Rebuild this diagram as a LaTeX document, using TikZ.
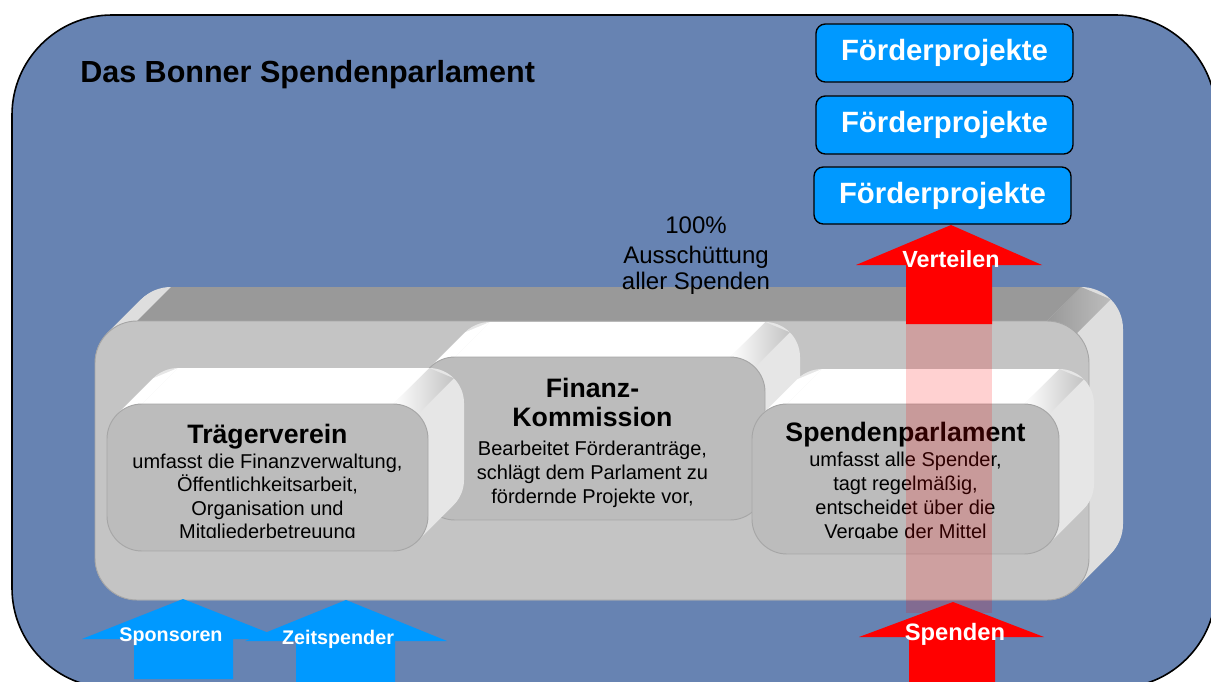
\documentclass[tikz,border=0pt]{standalone}
\usepackage{fontspec}
\setmainfont{Liberation Sans}
\definecolor{frame}{RGB}{103,131,178}
\definecolor{fpblue}{RGB}{0,153,255}
\definecolor{platside}{RGB}{222,222,222}
\definecolor{plattop}{RGB}{153,153,153}
\definecolor{platfront}{RGB}{196,196,196}
\definecolor{boxside}{RGB}{230,230,230}
\definecolor{boxfront}{RGB}{188,188,188}

% extruded rounded slab: #1..#4 front face corners, #5 radius, #6 depth,
% #7 side colour, #8 top colour, #9 front colour (bevel colour in \bevelcol)
\newcommand{\extslab}[9]{%
  \foreach \t in {0,...,#6}{%
    \fill[#7, rounded corners=#5*0.75pt] ({#1+\t},{#2-\t}) rectangle ({#3+\t},{#4-\t});}
  \fill[\bevelcol] ({#1+0.293*#5},{#2+0.293*#5}) -- ({#1+0.293*#5+#6},{#2+0.293*#5-#6})
     -- ({#1+#5+#6},{#2-#6}) -- ({#1+#5},{#2}) -- cycle;
  \shade[left color=#8, right color=#7!85!black] ({#3-#5},{#2}) -- ({#3-#5+#6},{#2-#6})
     -- ({#3-0.293*#5+#6},{#2+0.293*#5-#6}) -- ({#3-0.293*#5},{#2+0.293*#5}) -- cycle;
  \fill[#8] ({#1+#5},{#2}) -- ({#1+#5+#6},{#2-#6}) -- ({#3-#5+#6},{#2-#6}) -- ({#3-#5},{#2}) -- cycle;
  \fill[#9, rounded corners=#5*0.75pt] (#1,#2) rectangle (#3,#4);
  \draw[black!35, line width=0.7pt, rounded corners=#5*0.75pt] (#1,#2) rectangle (#3,#4);
}
% upward block arrow: apex, head left/right x, head base y, shaft left/right x, bottom y
\newcommand{\blockup}[9]{%
  \fill[#9] (#1,#2) -- (#4,#5) -- (#7,#5) -- (#7,#8) -- (#6,#8) -- (#6,#5) -- (#3,#5) -- cycle;}

\tikzset{
  fpbox/.style={draw=black, line width=1pt, fill=fpblue, rounded corners=7pt,
    text=white, font=\fontsize{22}{26}\selectfont\bfseries,
    minimum width=192.75pt, inner sep=0pt},
  boxtext/.style={align=center, inner sep=0pt, anchor=north},
  arrowlabel/.style={text=white, inner sep=0pt}
}

\begin{document}
\begin{tikzpicture}[x=0.75pt,y=-0.75pt]
\useasboundingbox (0,0) rectangle (1211,682);
\clip (0,0) rectangle (1211,682);
\fill[white] (0,0) rectangle (1211,682);

% outer panel
\draw[line width=1.2pt, fill=frame, rounded corners=75pt] (12,15) rectangle (1216,688);

\node[font=\fontsize{22.9}{27}\selectfont\bfseries, anchor=base west, inner sep=0pt]
  (title) at (80,82) {Das Bonner Spendenparlament};

% platform
\def\bevelcol{platside}
\extslab{95}{321}{1089}{600}{42}{34}{platside}{plattop}{platfront}

% member bodies
\def\bevelcol{white}
\extslab{420}{357}{765}{520}{35}{35}{boxside}{white}{boxfront}
\extslab{107}{404}{428}{551}{35}{36}{boxside}{white}{boxfront}
\extslab{752}{404}{1059}{554}{35}{35}{boxside}{white}{boxfront}

\node[boxtext, font=\fontsize{15}{18}\selectfont] (fktext) at (592.5,377.5)
  {{\fontsize{20}{24}\selectfont\bfseries Finanz-}\\[4pt]
   {\fontsize{20}{24}\selectfont\bfseries Kommission}\\[3.5pt]
   Bearbeitet Förderanträge,\\schlägt dem Parlament zu\\fördernde Projekte vor,};

% text boxes whose last line is cut off at the baseline
\begin{scope}
  \clip (107,380) rectangle (428,537.5);
  \node[boxtext, font=\fontsize{15}{17.5}\selectfont] (tvtext) at (267.5,423.5)
    {{\fontsize{20}{24}\selectfont\bfseries Trägerverein}\\[1.5pt]
     umfasst die Finanzverwaltung,\\Öffentlichkeitsarbeit,\\Organisation und\\Mitgliederbetreuung};
\end{scope}

\begin{scope}
  \clip (752,380) rectangle (1059,538);
  \node[boxtext, font=\fontsize{15}{18}\selectfont] (sptext) at (905.5,422)
    {{\fontsize{20}{24}\selectfont\bfseries Spendenparlament}\\[0.4pt]
     umfasst alle Spender,\\tagt regelmäßig,\\entscheidet über die\\Vergabe der Mittel};
\end{scope}

% distribution arrow passing through the parliament
\fill[red, opacity=0.18] (906,324) rectangle (992,613);
\blockup{951}{225}{856}{1042}{265}{906}{992}{324}{red}
\node[arrowlabel, font=\fontsize{17.5}{20}\selectfont\bfseries] (verteilen) at (951,259) {Verteilen};

% funded projects
\node[fpbox, minimum height=43.5pt] (fp1) at (944.5,53) {Förderprojekte};
\node[fpbox, minimum height=43.5pt] (fp2) at (944.5,125) {Förderprojekte};
\node[fpbox, minimum height=42.75pt] (fp3) at (942.5,195.5) {Förderprojekte};

\node[font=\fontsize{18}{19.5}\selectfont, align=center, inner sep=0pt] (pct) at (696,256)
  {100\%\\[3pt]Ausschüttung\\aller Spenden};

% incoming arrows
\blockup{953}{602}{859}{1044}{637}{909}{995}{690}{red}
\node[arrowlabel, font=\fontsize{17.8}{20}\selectfont\bfseries] (spenden) at (955,634) {Spenden};

\blockup{183}{599}{82}{284}{639}{134}{233}{679}{fpblue}
\blockup{346}{600}{245}{447}{641}{296}{395}{682}{fpblue}
\node[arrowlabel, font=\fontsize{14.8}{17}\selectfont\bfseries] (sponsoren) at (171,637) {Sponsoren};
\node[arrowlabel, font=\fontsize{14.8}{17}\selectfont\bfseries] (zeit) at (338,639) {Zeitspender};
\end{tikzpicture}
\end{document}
